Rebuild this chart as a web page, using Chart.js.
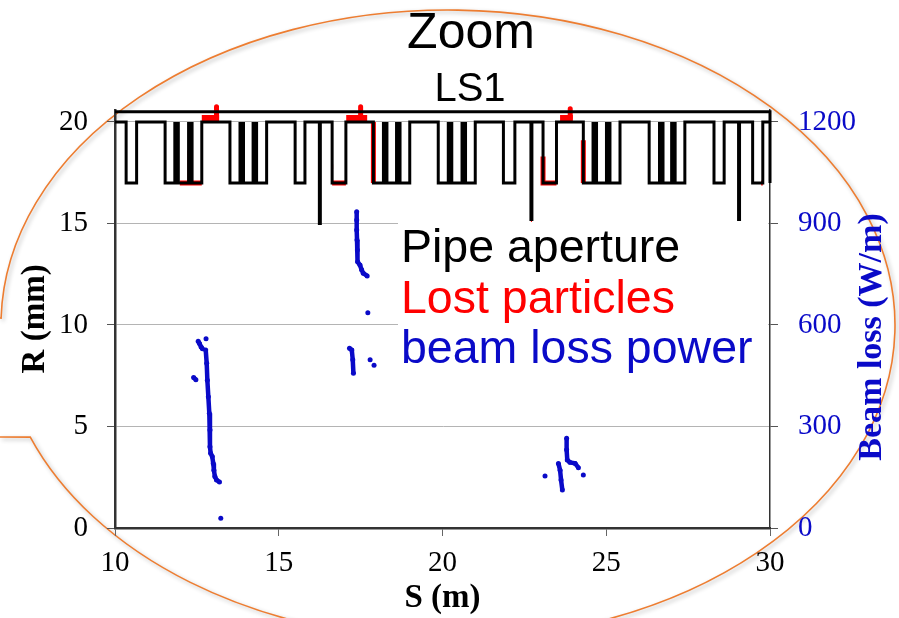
<!DOCTYPE html>
<html>
<head>
<meta charset="utf-8">
<script src="https://cdn.jsdelivr.net/npm/chart.js@4.4.1/dist/chart.umd.min.js"></script>
<style>
  html, body { margin: 0; padding: 0; background: #fff; }
  #wrap { width: 899px; height: 618px; position: relative; }
</style>
</head>
<body>
<div id="wrap"><canvas id="chart"></canvas></div>
<script>
// pipe aperture: R level (mm) that starts at each S (m)
const pipeS = [10, 10.34, 10.66, 11.53, 12.65, 13.51, 14.63, 15.50, 15.80, 16.24, 16.27, 16.63, 17.05, 17.89, 19.00, 19.87, 21.00, 21.86, 22.21, 22.70, 22.73, 23.07, 23.48, 24.30, 25.42, 26.31, 27.40, 28.29, 28.60, 29.04, 29.07, 29.47, 29.78, 30];
const pipeR = [20, 17, 20, 17, 20, 17, 20, 17, 20, 15, 20, 17, 20, 17, 20, 17, 20, 17, 20, 15.2, 20, 17, 20, 17, 20, 17, 20, 17, 20, 15.2, 20, 17, 20, 20];
// outer wall of the pipe
const wallS = [10, 30, 30];
const wallR = [20.5, 20.5, 17];
// narrow sections (filled black blocks), centre S
const blockS = [11.88, 12.30, 13.87, 14.27, 18.25, 18.65, 20.23, 20.65, 24.65, 25.06, 26.68, 27.05];
const blockLow = 17;
const blockHigh = 20;

// lost particles (mm), pieces split by null
const lostS = [11.98, 12.65, null, 12.29, 12.29, null,
  16.63, 17.05, null, 16.63, 16.66, null, 17.89, 17.89, null,
  22.70, 22.73, null, 23.07, 23.07, 23.48, null,
  24.30, 24.30, null, 29.73, 29.78];
const lostR = [17, 17, null, 17, 18.6, null,
  17, 17, null, 17.8, 17.8, null, 20, 17, null,
  15.2, 15.2, null, 18.3, 17, 17, null,
  19.1, 17, null, 17, 17];
// lost particles heaped on the wall (blobs and peaks)
const heapS = [12.65, 13.18, null, 17.06, 17.70, null, 23.59, 23.98];
const heapR = [20.17, 20.17, null, 20.17, 20.17, null, 20.17, 20.17];
const peakS = [13.10, 13.10, null, 17.50, 17.50, null, 23.90, 23.90];
const peakR = [20.2, 20.75, null, 20.2, 20.75, null, 20.2, 20.65];

// beam loss power (W/m), runs split by null
const lossS = [12.54, 12.58, 12.63, 12.67, null, 12.78, null, 12.40, 12.47, null,
  12.77, 12.80, 12.82, 12.85, 12.88, 12.90, 12.90, 12.92, 12.97, 13.00, 13.02, 13.05, 13.10, 13.19, null,
  13.23, null,
  17.38, 17.38, 17.38, 17.39, 17.40, 17.41, 17.48, 17.53, 17.58, 17.70, null,
  17.72, null, 17.16, 17.23, 17.26, 17.28, null, 17.79, null, 17.91, null,
  23.13, null, 23.54, 23.59, 23.62, 23.66, null,
  23.79, 23.79, 23.81, 23.89, 24.05, 24.15, null, 24.30];
const lossW = [552, 545, 535, 530, null, 559, null, 445, 438, null,
  526, 487, 437, 388, 339, 290, 240, 221, 211, 191, 171, 152, 142, 136, null,
  29, null,
  935, 910, 881, 851, 822, 787, 777, 763, 753, 745, null,
  636, null, 531, 526, 497, 457, null, 497, null, 481, null,
  154, null, 191, 171, 142, 112, null,
  265, 231, 201, 194, 191, 178, null, 157];

const rTicks = [0, 5, 10, 15, 20];
const wTicks = [0, 300, 600, 900, 1200];
const sTicks = [10, 15, 20, 25, 30];

const legendItems = ['Pipe aperture', 'Lost particles', 'beam loss power'];
const legendColors = ['#000000', '#ff0000', '#0a0ac8'];

const BLUE = '#0a0ac8';
const RED = '#ff0000';
const SERIF = "'Liberation Serif', 'Times New Roman', serif";
const SANS = "'Liberation Sans', Arial, sans-serif";

function pairs(xs, ys) {
  return xs.map((x, i) => (x === null ? { x: xs[i - 1], y: null } : { x: x, y: ys[i] }));
}

// step outline of the aperture
const pipePts = [];
pipeS.forEach((s, i) => {
  if (i > 0) pipePts.push({ x: s, y: pipeR[i - 1] });
  pipePts.push({ x: s, y: pipeR[i] });
});

const blockPts = [];
blockS.forEach(s => {
  blockPts.push({ x: s, y: blockLow }, { x: s, y: blockHigh }, { x: s, y: null });
});

const R_MAX = 20.6;
const W_PER_MM = 60;

const decor = {
  id: 'decor',
  beforeDraw(chart) {
    const ctx = chart.ctx;
    ctx.save();
    ctx.strokeStyle = '#ed7d31';
    ctx.lineWidth = 1.6;
    ctx.shadowColor = 'rgba(0,0,0,0.3)';
    ctx.shadowBlur = 4;
    ctx.shadowOffsetX = 2;
    ctx.shadowOffsetY = 2;
    ctx.beginPath();
    ctx.moveTo(0, 318);
    ctx.ellipse(448, 325, 447, 315, 0, Math.PI + 0.022, Math.PI - 0.364, false);
    ctx.lineTo(0, 437);
    ctx.stroke();
    ctx.restore();
  },
  afterDraw(chart) {
    const ctx = chart.ctx;
    ctx.save();
    // legend box hides grid
    ctx.fillStyle = '#ffffff';
    ctx.fillRect(398, 222, 370, 150);
    ctx.font = '46.5px ' + SANS;
    ctx.textAlign = 'left';
    ctx.textBaseline = 'alphabetic';
    legendItems.forEach((t, i) => {
      ctx.fillStyle = legendColors[i];
      ctx.fillText(t, 401, 262 + i * 50.5);
    });
    // titles
    ctx.fillStyle = '#000';
    ctx.textAlign = 'center';
    ctx.font = '50px ' + SANS;
    ctx.fillText('Zoom', 471, 48);
    ctx.font = '40px ' + SANS;
    ctx.fillText('LS1', 470, 101);
    // right axis title
    ctx.translate(872, 337);
    ctx.rotate(-Math.PI / 2);
    ctx.fillStyle = BLUE;
    ctx.font = 'bold 34px ' + SERIF;
    ctx.textBaseline = 'middle';
    ctx.fillText('Beam loss (W/m)', 0, 0);
    ctx.restore();
  }
};

new Chart(document.getElementById('chart'), {
  type: 'line',
  data: {
    datasets: [
      {
        label: 'Pipe aperture',
        data: pipePts,
        borderColor: '#000',
        borderWidth: 3,
        pointRadius: 0,
        yAxisID: 'y'
      },
      {
        label: 'wall',
        data: pairs(wallS, wallR),
        borderColor: '#000',
        borderWidth: 3,
        pointRadius: 0,
        clip: false,
        yAxisID: 'y'
      },
      {
        label: 'blocks',
        data: blockPts,
        borderColor: '#000',
        borderWidth: 6.5,
        borderCapStyle: 'butt',
        pointRadius: 0,
        spanGaps: false,
        yAxisID: 'y'
      },
      {
        label: 'Lost particles',
        data: pairs(lostS, lostR),
        borderColor: RED,
        borderWidth: 5,
        pointRadius: 0,
        spanGaps: false,
        clip: false,
        yAxisID: 'y'
      },
      {
        label: 'lost heap',
        data: pairs(heapS, heapR),
        borderColor: RED,
        borderWidth: 7,
        borderCapStyle: 'butt',
        pointRadius: 0,
        spanGaps: false,
        clip: false,
        yAxisID: 'y'
      },
      {
        label: 'lost peak',
        data: pairs(peakS, peakR),
        borderColor: RED,
        borderWidth: 5,
        borderCapStyle: 'round',
        pointRadius: 0,
        spanGaps: false,
        clip: false,
        yAxisID: 'y'
      },
      {
        label: 'beam loss power',
        data: pairs(lossS, lossW),
        borderColor: BLUE,
        backgroundColor: BLUE,
        borderWidth: 4.5,
        pointRadius: 2.5,
        pointBorderWidth: 0,
        spanGaps: false,
        yAxisID: 'y2'
      }
    ]
  },
  options: {
    responsive: true,
    maintainAspectRatio: false,
    devicePixelRatio: 1,
    animation: false,
    layout: { padding: { top: 109.8, left: 0, right: 0, bottom: 0 } },
    plugins: {
      legend: { display: false },
      tooltip: { enabled: false }
    },
    scales: {
      x: {
        type: 'linear',
        min: 10,
        max: 30,
        offset: false,
        afterFit: s => { s.height = 90; },
        afterBuildTicks: s => { s.ticks = sTicks.map(v => ({ value: v })); },
        grid: { drawOnChartArea: false, offset: false, tickLength: 8, tickColor: '#666' },
        border: { color: '#333', width: 2.5 },
        ticks: { color: '#000', font: { family: SERIF, size: 29 }, padding: 10, maxRotation: 0, callback: v => String(v) },
        title: { display: true, text: 'S (m)', color: '#000', font: { family: SERIF, size: 33, weight: 'bold' }, padding: { top: 0, bottom: 0 } }
      },
      y: {
        position: 'left',
        min: 0,
        max: R_MAX,
        afterFit: s => { s.width = 115; },
        afterBuildTicks: s => { s.ticks = rTicks.map(v => ({ value: v })); },
        grid: { color: '#b4b4b4', lineWidth: 1, tickLength: 8, tickColor: '#555' },
        border: { color: '#333', width: 2.5 },
        ticks: { color: '#000', font: { family: SERIF, size: 29 }, padding: 19, callback: v => String(v) },
        title: { display: true, text: 'R (mm)', color: '#000', font: { family: SERIF, size: 33, weight: 'bold' }, padding: { top: 16, bottom: 0 } }
      },
      y2: {
        position: 'right',
        min: 0,
        max: R_MAX * W_PER_MM,
        afterFit: s => { s.width = 129; },
        afterBuildTicks: s => { s.ticks = wTicks.map(v => ({ value: v })); },
        grid: { drawOnChartArea: false, tickLength: 8, tickColor: '#555' },
        border: { color: '#333', width: 1.5 },
        ticks: { color: BLUE, font: { family: SERIF, size: 29 }, padding: 20, callback: v => String(v) }
      }
    }
  },
  plugins: [decor]
});
</script>
</body>
</html>
